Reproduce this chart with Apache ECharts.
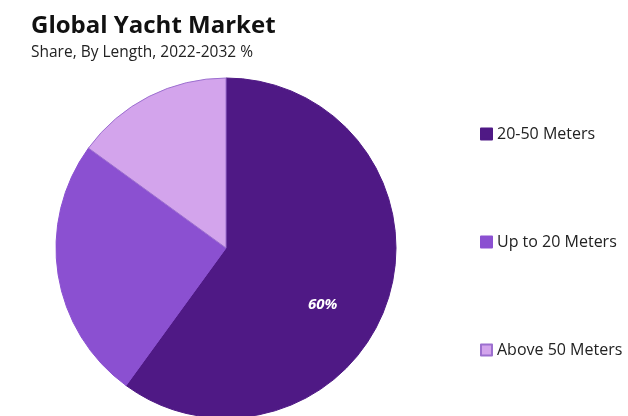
<!DOCTYPE html>
<html>
<head>
<meta charset="utf-8">
<style>
  html, body { margin: 0; padding: 0; background: #ffffff; }
  #chart { width: 628px; height: 416px; }
</style>
<script src="https://cdn.jsdelivr.net/npm/echarts@6/dist/echarts.min.js"></script>
</head>
<body>
<div id="chart"></div>
<script>
// Share of the global yacht market by length
const segments = ['20-50 Meters', 'Up to 20 Meters', 'Above 50 Meters'];
const shares = [60, 25, 15];
const colors = ['#4f1985', '#8b50d1', '#d3a4ec'];
const borders = ['#4f1985', '#8b50d1', '#9c6fcf'];

const chart = echarts.init(document.getElementById('chart'));

const data = segments.map((name, i) => ({
  name: name,
  value: shares[i],
  itemStyle: { color: colors[i], borderColor: borders[i], borderWidth: 1 },
  label: { show: i === 0 }
}));

chart.setOption({
  animation: false,
  title: {
    text: 'Global Yacht Market',
    subtext: 'Share, By Length, 2022-2032 %',
    left: 26,
    top: 9,
    itemGap: 7,
    textStyle: { fontFamily: 'Open Sans', fontWeight: 'bold', fontSize: 24, color: '#111111' },
    subtextStyle: { fontFamily: 'Open Sans', fontSize: 15.5, color: '#222222' }
  },
  legend: {
    orient: 'vertical',
    left: 475,
    top: 121,
    itemWidth: 11,
    itemHeight: 11,
    itemGap: 92,
    icon: 'rect',
    textStyle: { fontFamily: 'Open Sans', fontSize: 16, color: '#222222', padding: [0, 0, 0, 0] },
    data: segments
  },
  series: [{
    type: 'pie',
    center: [226, 248],
    radius: [0, 170],
    startAngle: 90,
    clockwise: true,
    label: {
      position: 'inside',
      formatter: '{c}%',
      color: '#ffffff',
      fontFamily: 'Open Sans',
      fontStyle: 'italic',
      fontWeight: 'bold',
      fontSize: 15,
      offset: [13, 30]
    },
    labelLine: { show: false },
    emphasis: { disabled: true },
    data: data
  }]
});
</script>
</body>
</html>
